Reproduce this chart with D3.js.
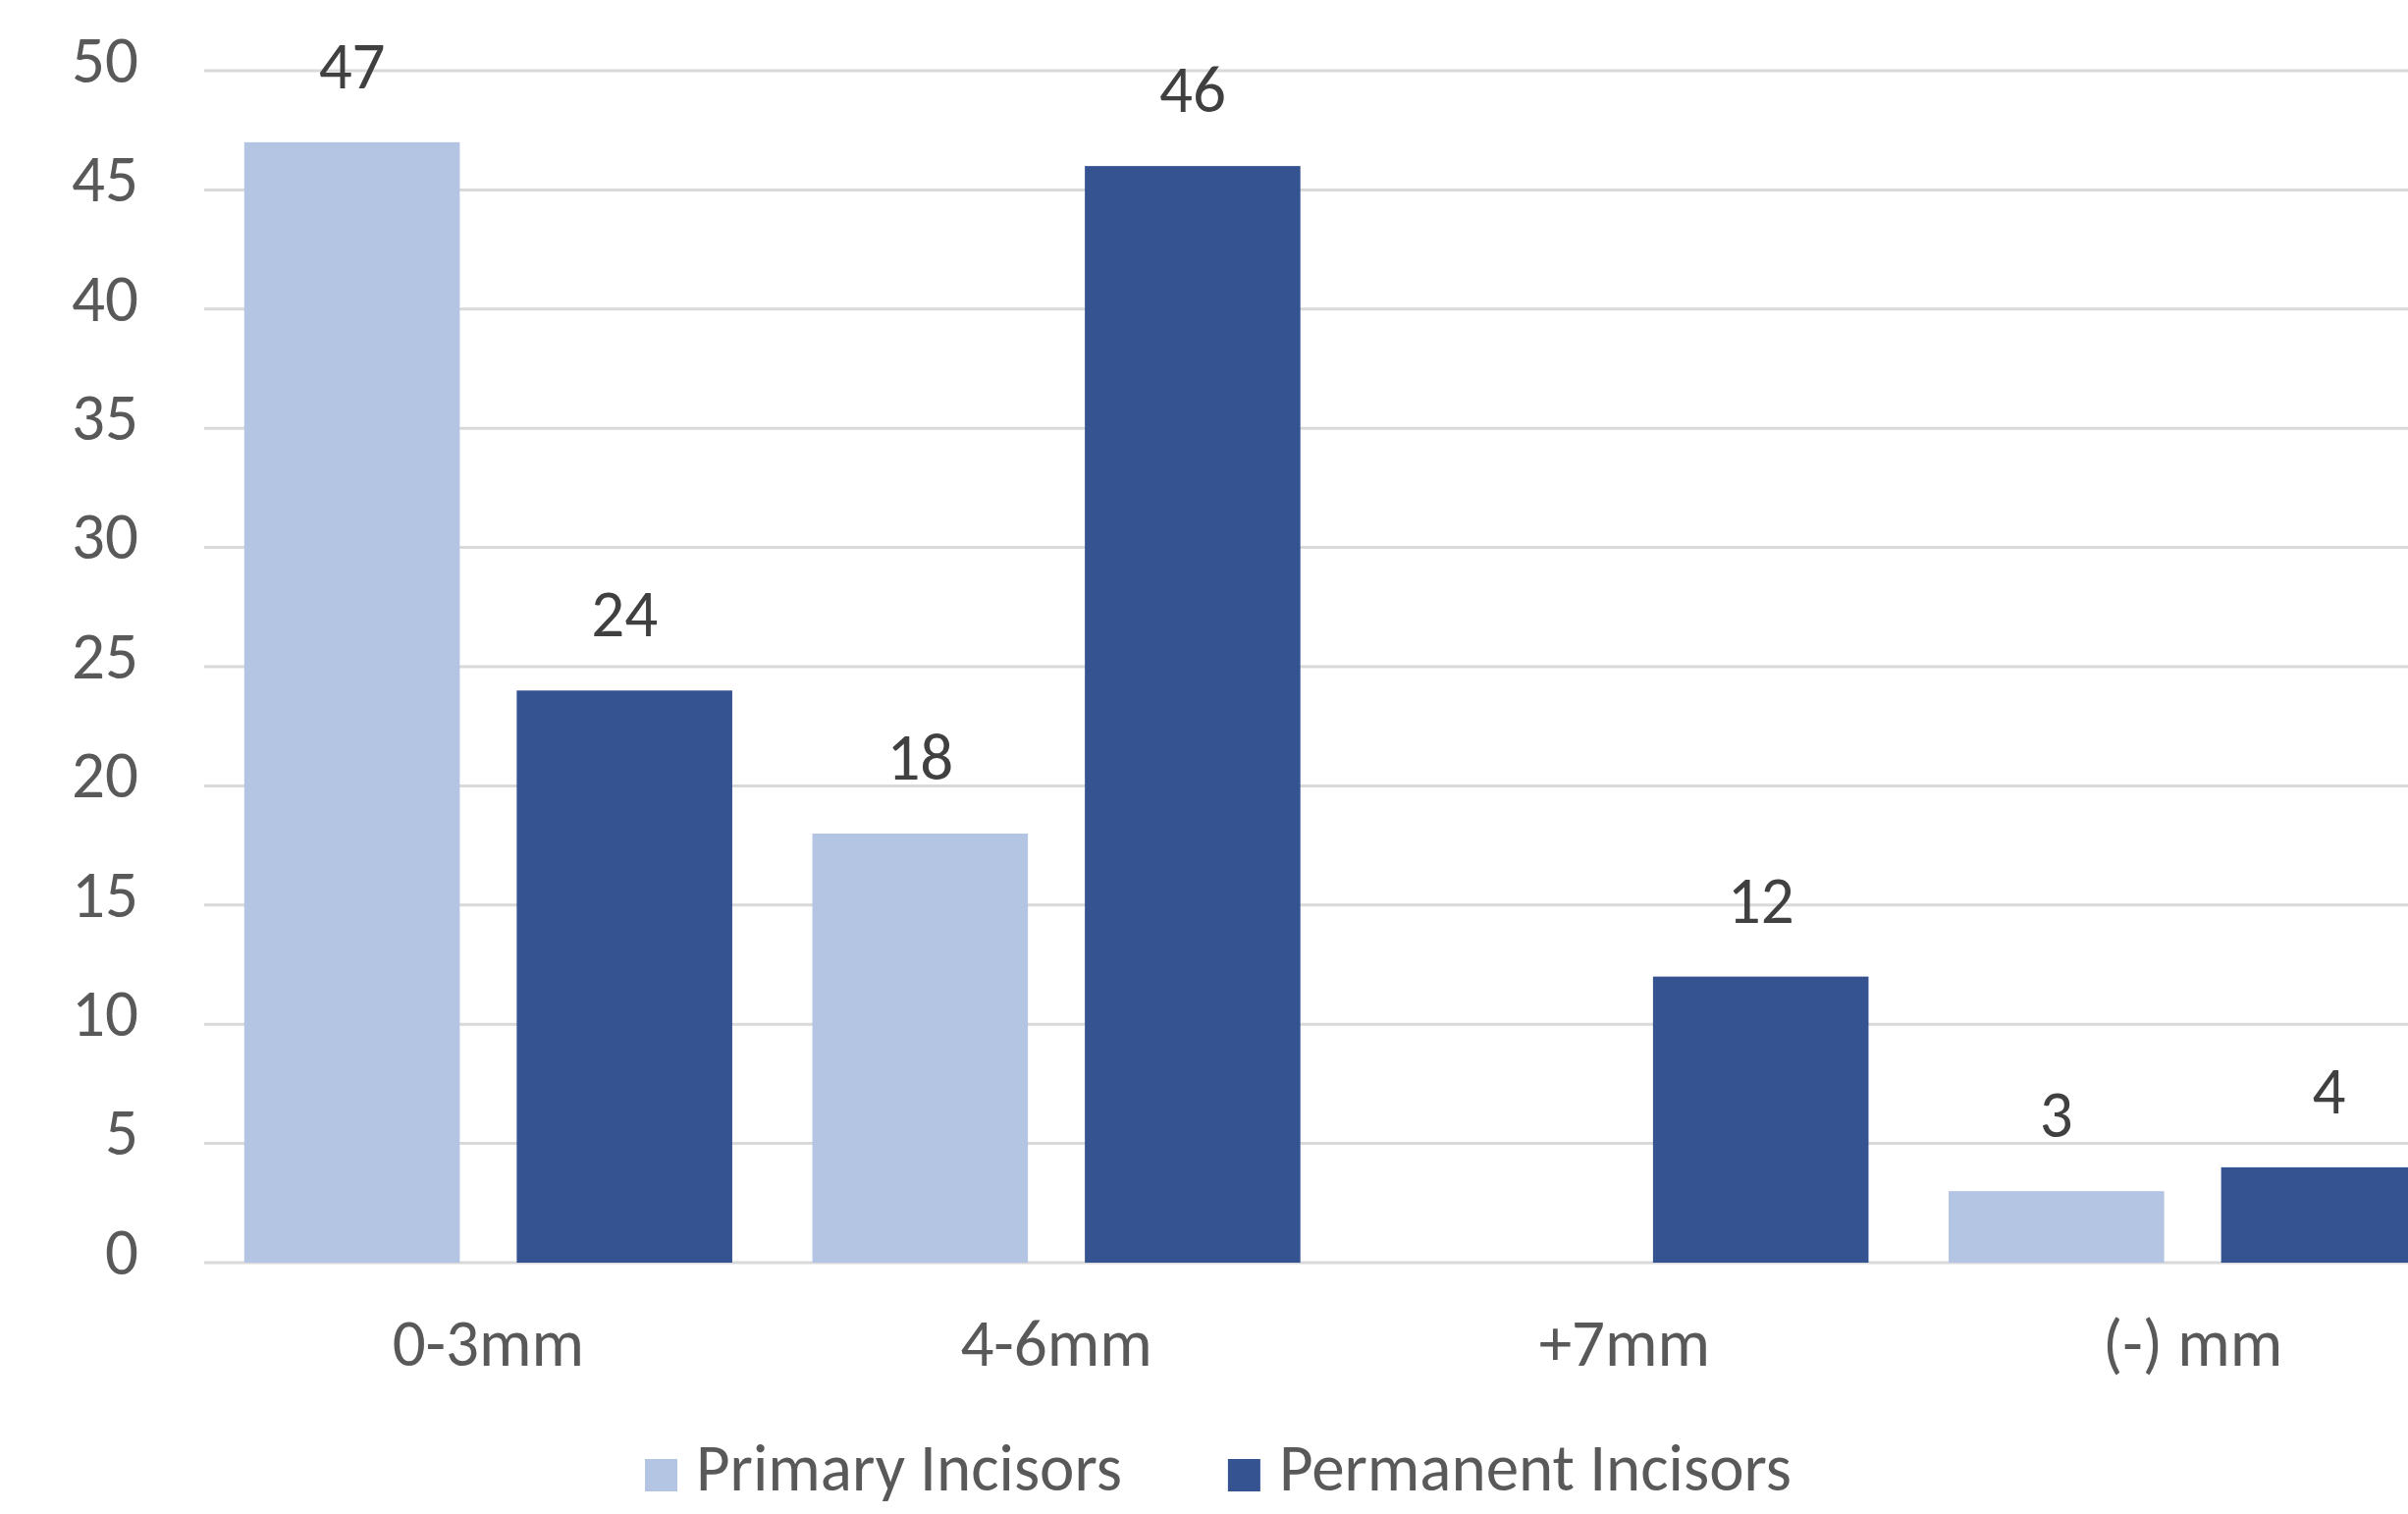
<!DOCTYPE html>
<html>
<head>
<meta charset="utf-8">
<script src="https://cdn.jsdelivr.net/npm/d3@7"></script>
<style>
  html, body { margin: 0; padding: 0; background: #ffffff; }
  svg { display: block; overflow: hidden; }
  text { font-family: Calibri, Carlito, Lato, "Open Sans", sans-serif; }
</style>
</head>
<body>
<svg id="chart" width="2453" height="1542"></svg>
<script>
// Overjet categories and counts per dentition
const categories = ["0-3mm", "4-6mm", "+7mm", "(-) mm"];
const seriesNames = ["Primary Incisors", "Permanent Incisors"];
const primaryValues = [47, 18, null, 3];
const permanentValues = [24, 46, 12, 4];
const yTicks = [0, 5, 10, 15, 20, 25, 30, 35, 40, 45, 50];

const seriesColors = ["#B4C5E4", "#365391"];

const rows = categories.map((c, i) => ({
  category: c,
  values: [
    { series: seriesNames[0], value: primaryValues[i] },
    { series: seriesNames[1], value: permanentValues[i] }
  ]
}));

const svg = d3.select("#chart");
const fontSize = 67;
const fontStack = "Calibri, Carlito, Lato, sans-serif";

// Plot area runs past the right edge of the canvas
const plot = { left: 208, right: 2523, top: 72, bottom: 1286 };

const y = d3.scaleLinear().domain([0, 50]).range([plot.bottom, plot.top]);

const x0 = d3.scaleBand()
  .domain(categories)
  .range([plot.left, plot.right])
  .paddingInner(0)
  .paddingOuter(0);

const x1 = d3.scaleBand()
  .domain(seriesNames)
  .range([0, x0.bandwidth()])
  .paddingInner(0.209)
  .paddingOuter(0.147);

const color = d3.scaleOrdinal().domain(seriesNames).range(seriesColors);

// Horizontal gridlines
svg.append("g")
  .selectAll("line")
  .data(yTicks)
  .join("line")
  .attr("x1", plot.left)
  .attr("x2", plot.right)
  .attr("y1", d => y(d))
  .attr("y2", d => y(d))
  .attr("stroke", "#D9D9D9")
  .attr("stroke-width", 3);

// Y axis tick labels
const yAxis = d3.axisLeft(y).tickValues(yTicks).tickSize(0).tickPadding(0);
const yAxisG = svg.append("g")
  .attr("transform", `translate(141,0)`)
  .call(yAxis);
yAxisG.select(".domain").remove();
yAxisG.selectAll("text")
  .attr("font-size", fontSize)
  .attr("fill", "#595959")
  .attr("x", 0)
  .attr("dy", "0.17em")
  .attr("text-anchor", "end")
  .style("font-family", fontStack);

// Bars
const groups = svg.append("g")
  .selectAll("g")
  .data(rows)
  .join("g")
  .attr("transform", d => `translate(${x0(d.category)},0)`);

const present = d => d.values.filter(v => v.value !== null);

groups.selectAll("rect")
  .data(present)
  .join("rect")
  .attr("x", d => x1(d.series))
  .attr("width", x1.bandwidth())
  .attr("y", d => y(d.value))
  .attr("height", d => y(0) - y(d.value))
  .attr("fill", d => color(d.series));

// Value labels above bars
groups.selectAll("text.value")
  .data(present)
  .join("text")
  .attr("class", "value")
  .attr("x", d => x1(d.series) + x1.bandwidth() / 2)
  .attr("y", d => y(d.value) - 55)
  .attr("text-anchor", "middle")
  .attr("font-size", fontSize)
  .attr("fill", "#404040")
  .text(d => d.value);

// Category axis
const xAxis = d3.axisBottom(x0).tickSize(0).tickPadding(0);
const xAxisG = svg.append("g")
  .attr("transform", `translate(0,${plot.bottom})`)
  .call(xAxis);
xAxisG.select(".domain").remove();
xAxisG.selectAll("text")
  .attr("font-size", fontSize)
  .attr("fill", "#595959")
  .attr("y", 105)
  .attr("dy", 0)
  .style("font-family", fontStack);

// Legend
const legend = svg.append("g").attr("transform", "translate(657,0)");
let lx = 0;
seriesNames.forEach((name, i) => {
  legend.append("rect")
    .attr("x", lx)
    .attr("y", 1486)
    .attr("width", 33)
    .attr("height", 33)
    .attr("fill", seriesColors[i]);
  const t = legend.append("text")
    .attr("x", lx + 52)
    .attr("y", 1518)
    .attr("font-size", fontSize)
    .attr("fill", "#595959")
    .text(name);
  lx += 52 + t.node().getComputedTextLength() + 108;
});
</script>
</body>
</html>
